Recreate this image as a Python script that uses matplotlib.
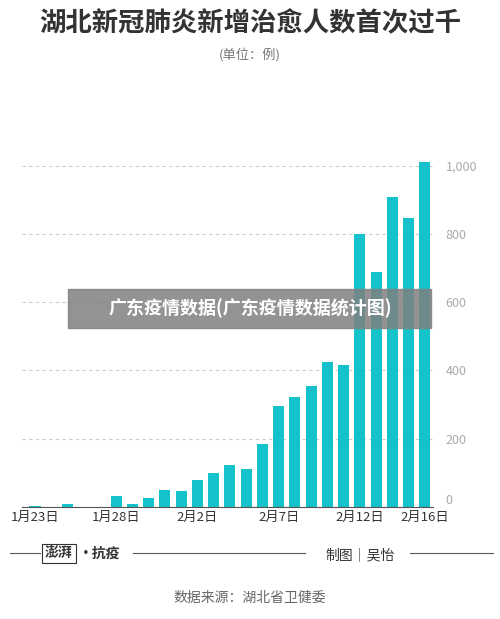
import matplotlib
matplotlib.use("Agg")
import matplotlib.pyplot as plt
import numpy as np

plt.rcParams['font.family'] = ['Noto Sans CJK SC', 'DejaVu Sans']

dates = ["1/23","1/24","1/25","1/26","1/27","1/28","1/29","1/30","1/31","2/1","2/2","2/3","2/4",
         "2/5","2/6","2/7","2/8","2/9","2/10","2/11","2/12","2/13","2/14","2/15","2/16"]
values = [2,0,8,0,1,31,8,25,49,47,79,100,123,111,183,297,322,354,425,415,799,688,909,847,1014]
tick_idx = [0,5,10,15,20,24]
tick_labels = ["1月23日","1月28日","2月2日","2月7日","2月12日","2月16日"]
yticks = [0,200,400,600,800,1000]
ytick_labels = ["0","200","400","600","800","1,000"]

fig = plt.figure(figsize=(5.00,6.19), dpi=100)
ax = fig.add_axes([0.044, 0.181, 0.822, 0.557])
x = np.arange(len(values))
ax.bar(x, values, width=0.68, color="#14c3c9")
ax.set_xlim(-0.8, 24.5)
ax.set_ylim(0, 1010)
ax.yaxis.tick_right()
ax.set_yticks(yticks)
ax.set_yticklabels(ytick_labels, color="#aaaaaa", fontsize=9)
ax.get_yticklabels()[0].set_verticalalignment('bottom')
ax.set_xticks(tick_idx)
ax.set_xticklabels(tick_labels, fontsize=9.5, color="#333333")
ax.tick_params(length=0, pad=3)
ax.tick_params(axis='y', pad=9)
for s in ["top","right","left"]:
    ax.spines[s].set_visible(False)
ax.spines["bottom"].set_color("#555555")
ax.grid(axis='y', linestyle=(0,(3,3)), color="#cccccc", linewidth=0.8)
ax.set_axisbelow(True)

fig.text(0.5, 0.962, "湖北新冠肺炎新增治愈人数首次过千", ha='center', va='center',
         fontsize=19, fontweight='bold', color="#333333")
fig.text(0.5, 0.912, "(单位：例)", ha='center', va='center', fontsize=9.5, color="#777777")

# watermark band
fig.patches.append(plt.Rectangle((0.136, 0.470), 0.726, 0.063, transform=fig.transFigure,
                                 color="#808080", alpha=0.85, zorder=5))
fig.text(0.5, 0.5015, "广东疫情数据(广东疫情数据统计图)", ha='center', va='center',
         fontsize=13, fontweight='bold', color="white", zorder=6)

# footer
fig.add_artist(plt.Line2D([0.02, 0.08], [0.106, 0.106], color="#555555", lw=0.8))
fig.add_artist(plt.Line2D([0.265, 0.61], [0.106, 0.106], color="#555555", lw=0.8))
fig.add_artist(plt.Line2D([0.82, 0.985], [0.106, 0.106], color="#555555", lw=0.8))
fig.text(0.09, 0.106, "澎湃", ha='left', va='center', fontsize=10, fontweight='bold', color="#333333",
         bbox=dict(boxstyle="square,pad=0.2", fc="white", ec="#333333", lw=0.8))
fig.text(0.158, 0.106, "·抗疫", ha='left', va='center', fontsize=10, fontweight='bold', color="#333333")
fig.text(0.72, 0.104, "制图｜吴怡", ha='center', va='center', fontsize=10, color="#333333")
fig.text(0.5, 0.035, "数据来源：湖北省卫健委", ha='center', va='center', fontsize=10, color="#666666")

fig.savefig("out.png", dpi=100, facecolor="white")
